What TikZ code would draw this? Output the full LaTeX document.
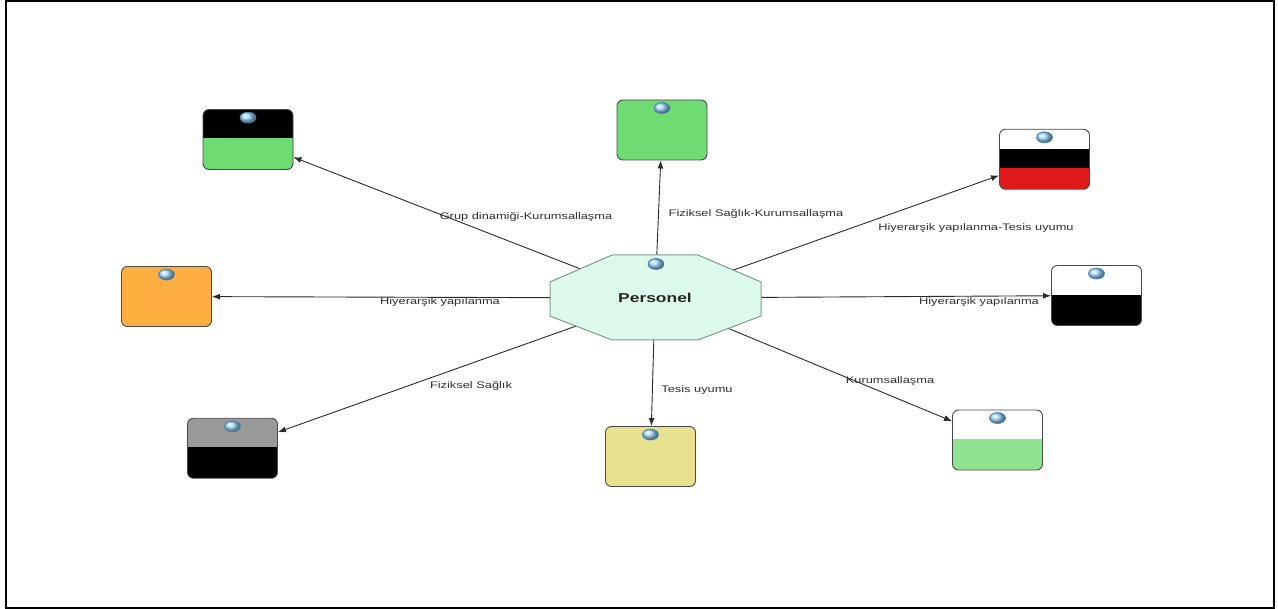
\documentclass[tikz,border=0pt]{standalone}
\usepackage{fontspec}
\setmainfont{Liberation Sans}
\newfontfamily\lblfont[FakeStretch=1.35]{Liberation Sans}
\usetikzlibrary{arrows.meta,shapes.geometric}
\pgfdeclarelayer{background}
\pgfsetlayers{background,main}
\definecolor{tilegreen}{HTML}{6EDC72}
\definecolor{softgreen}{HTML}{90E490}
\definecolor{tileorange}{HTML}{FFAE42}
\definecolor{tilered}{HTML}{E01A1A}
\definecolor{tilegray}{HTML}{9A9A9A}
\definecolor{tileyellow}{HTML}{E8E28E}
\definecolor{octfill}{HTML}{DDFBEB}
\definecolor{octedge}{HTML}{7F9A8C}
\definecolor{tileedge}{HTML}{4A4A4A}
\definecolor{linkgray}{HTML}{2A2A2A}
\definecolor{lblgray}{HTML}{303030}
\definecolor{beadblue}{HTML}{A6DEFF}
\definecolor{beadedge}{HTML}{3C82C4}
\tikzset{
  tile/.style = {draw = tileedge, line width = .9pt, rounded corners = 6pt,
    minimum width = 90pt, minimum height = 60pt, inner sep = 0pt},
  lowerfill/.style 2 args = {path picture = {\fill[#2, sharp corners]
    ([yshift = -#1pt]path picture bounding box.north west) rectangle
    (path picture bounding box.south east);}},
  bead/.style = {ellipse, minimum width = 16pt, minimum height = 11pt,
    inner sep = 0pt, ball color = beadblue, draw = beadedge, line width = .6pt},
  link/.style = {draw = linkgray, line width = .9pt,
    -{Latex[length = 8pt, width = 6pt]}},
  lbl/.style = {text = lblgray, font = \lblfont\fontsize{9.5}{11}\selectfont,
    inner sep = 1pt}
}
\begin{document}
\begin{tikzpicture}[x = 1pt, y = -1pt]
  \useasboundingbox (0, 0) rectangle (1278, 609);
  \draw[line width = 2pt] (6, 1) rectangle (1274, 608);
  % centre
  \draw[fill = octfill, draw = octedge, line width = 1pt] (612, 255) --
  (698, 255) -- (761, 282) -- (761, 316) -- (698, 340) -- (612, 340) --
  (550, 316) -- (550, 282) -- cycle;
  \node[font = \lblfont\fontsize{12.9}{15}\selectfont\bfseries,
  text = black!85] (personel) at (655, 298) {Personel};
  \node[bead] (obead) at (656, 264) {};
  % tiles
  \node[tile, fill = black, lowerfill = {29}{tilegreen}] (tlbox) at
  (248, 139.5) {};
  \node[tile, fill = tilegreen] (tcbox) at (662, 130) {};
  \node[tile, fill = white, path picture = {\fill[black, sharp corners]
    ([yshift = -20pt]path picture bounding box.north west) rectangle
    ([yshift = 21.5pt]path picture bounding box.south east);
    \fill[tilered, sharp corners]
    ([yshift = 21.5pt]path picture bounding box.south west)
    rectangle (path picture bounding box.south east);}] (trbox) at
  (1044.5, 159.3) {};
  \node[tile, fill = tileorange] (lbox) at (166.5, 296.5) {};
  \node[tile, fill = white, lowerfill = {30}{black}] (rbox) at
  (1096.5, 295.5) {};
  \node[tile, fill = tilegray, lowerfill = {28.5}{black}] (blbox) at
  (232.5, 448.3) {};
  \node[tile, fill = tileyellow] (bcbox) at (650.5, 456.5) {};
  \node[tile, fill = white, lowerfill = {29.5}{softgreen}] (brbox) at
  (997.5, 440) {};
  \foreach \t in {tlbox, tcbox, trbox, lbox, rbox, blbox, bcbox, brbox}
    \node[bead] at ([yshift = -8.5pt]\t.north) {};
  % connectors
  \begin{pgfonlayer}{background}
    \foreach \t in {tlbox, tcbox, trbox, lbox, rbox, blbox, bcbox, brbox}
      \draw[link] (personel.center) -- (\t);
  \end{pgfonlayer}
  % labels
  \node[lbl] (lgrup) at (526, 217) {Grup dinamiği-Kurumsallaşma};
  \node[lbl] (lfizk) at (756, 214) {Fiziksel Sağlık-Kurumsallaşma};
  \node[lbl] (lhiyt) at (976, 228) {Hiyerarşik yapılanma-Tesis uyumu};
  \node[lbl] (lhiyl) at (440, 302) {Hiyerarşik yapılanma};
  \node[lbl] (lhiyr) at (979, 302) {Hiyerarşik yapılanma};
  \node[lbl] (lfiz) at (471, 386) {Fiziksel Sağlık};
  \node[lbl] (ltes) at (697, 390) {Tesis uyumu};
  \node[lbl] (lkur) at (890, 381) {Kurumsallaşma};
\end{tikzpicture}
\end{document}
